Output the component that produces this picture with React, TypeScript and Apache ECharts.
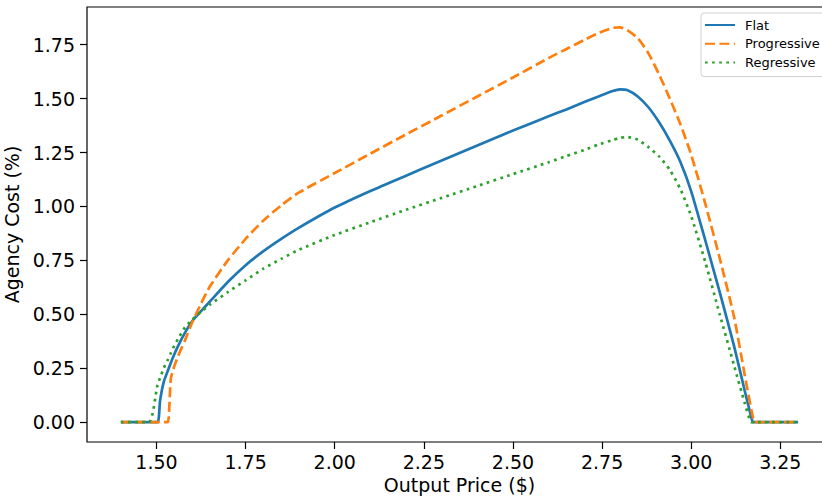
import React, { useEffect, useRef } from "react";
import * as echarts from "echarts";

const priceGrid = [1.40, 1.478, 1.503, 1.51, 1.52, 1.532, 1.54, 1.55, 1.56, 1.58, 1.60, 1.625, 1.65, 1.70, 1.75, 1.80, 1.85, 1.90, 2.00, 2.10, 2.20, 2.30, 2.40, 2.50, 2.60, 2.65, 2.70, 2.74, 2.78, 2.80, 2.82, 2.85, 2.88, 2.91, 2.94, 2.97, 3.00, 3.04, 3.08, 3.12, 3.15, 3.169, 3.173, 3.177, 3.20, 3.30];

const flatCost = [0, 0, 0, 0.1, 0.185, 0.24, 0.275, 0.315, 0.352, 0.415,
  0.468, 0.515, 0.56, 0.65, 0.728, 0.793, 0.85, 0.902, 0.995, 1.072,
  1.143, 1.213, 1.283, 1.352, 1.418, 1.45, 1.484, 1.51, 1.535, 1.543,
  1.54, 1.51, 1.46, 1.39, 1.305, 1.205, 1.07, 0.84, 0.603, 0.355,
  0.147, 0.02, 0, 0, 0, 0];

const progressiveCost = [0, 0, 0, 0, 0, 0, 0.2, 0.26, 0.305, 0.38,
  0.462, 0.55, 0.63, 0.75, 0.85, 0.935, 1.005, 1.065, 1.155, 1.245,
  1.334, 1.422, 1.51, 1.598, 1.688, 1.73, 1.772, 1.804, 1.828, 1.83,
  1.818, 1.78, 1.71, 1.612, 1.50, 1.38, 1.24, 1.01, 0.76, 0.49,
  0.22, 0.055, 0.025, 0, 0, 0];

const regressiveCost = [0, 0, 0.175, 0.205, 0.25, 0.29, 0.32, 0.355, 0.385, 0.44,
  0.475, 0.512, 0.545, 0.603, 0.658, 0.712, 0.757, 0.80, 0.868, 0.927,
  0.985, 1.04, 1.095, 1.15, 1.205, 1.234, 1.262, 1.287, 1.308, 1.318,
  1.322, 1.31, 1.275, 1.232, 1.17, 1.08, 0.955, 0.74, 0.50, 0.265,
  0.09, 0, 0, 0, 0, 0];

const xTicks = [1.5, 1.75, 2.0, 2.25, 2.5, 2.75, 3.0, 3.25];
const yTicks = [0, 0.25, 0.5, 0.75, 1.0, 1.25, 1.5, 1.75];

const FONT = "DejaVu Sans";
const LW = 2.7;

export default function App() {
  const ref = useRef<HTMLDivElement>(null);
  useEffect(() => {
    if (!ref.current) return;
    const chart = echarts.init(ref.current, undefined, { renderer: "svg" });
    const pair = (ys: number[]) => priceGrid.map((x, i) => [x, ys[i]]);
    const lineSeries = (name: string, ys: number[], color: string, type: any) => ({
      name,
      type: "line",
      data: pair(ys),
      showSymbol: false,
      symbol: "none",
      smooth: 0.2,
      color,
      lineStyle: { color, width: LW, type },
    });
    chart.setOption({
      animation: false,
      backgroundColor: "#ffffff",
      textStyle: { fontFamily: FONT },
      grid: {
        left: 87,
        top: 7,
        width: 745,
        height: 435,
        show: true,
        borderColor: "#000000",
        borderWidth: 1.2,
        containLabel: false,
        outerBoundsMode: "none",
      },
      legend: {
        orient: "vertical",
        left: 701,
        top: 13,
        padding: [5.5, 8, 7.5, 3],
        itemWidth: 30,
        itemHeight: 12,
        itemGap: 5.8,
        itemStyle: { opacity: 0 },
        backgroundColor: "rgba(255,255,255,0.8)",
        borderColor: "#d0d0d0",
        borderWidth: 1,
        borderRadius: 3,
        textStyle: {
          fontFamily: FONT,
          fontSize: 13,
          lineHeight: 13,
          color: "#000000",
          padding: [0, 0, 0, 5],
        },
        data: ["Flat", "Progressive", "Regressive"],
      },
      xAxis: {
        type: "value",
        min: 1.305,
        max: 3.395,
        name: "Output Price ($)",
        nameLocation: "middle",
        nameGap: 33,
        nameTextStyle: { fontFamily: FONT, fontSize: 19, color: "#000000" },
        axisLine: { show: false, onZero: false },
        axisTick: {
          show: true,
          length: 7,
          lineStyle: { color: "#000000", width: 1.2 },
          customValues: xTicks,
        },
        axisLabel: {
          fontFamily: FONT,
          fontSize: 19,
          color: "#000000",
          margin: 10,
          customValues: xTicks,
          formatter: (v: number) => v.toFixed(2),
        },
        splitLine: { show: false },
      },
      yAxis: {
        type: "value",
        min: -0.0917,
        max: 1.9247,
        name: "Agency Cost (%)",
        nameLocation: "middle",
        nameGap: 52,
        nameTextStyle: { fontFamily: FONT, fontSize: 19, color: "#000000" },
        axisLine: { show: false, onZero: false },
        axisTick: {
          show: true,
          length: 7,
          lineStyle: { color: "#000000", width: 1.2 },
          customValues: yTicks,
        },
        axisLabel: {
          fontFamily: FONT,
          fontSize: 19,
          color: "#000000",
          margin: 12,
          customValues: yTicks,
          formatter: (v: number) => v.toFixed(2),
        },
        splitLine: { show: false },
      },
      series: [
        lineSeries("Flat", flatCost, "#1f77b4", "solid"),
        lineSeries("Progressive", progressiveCost, "#ff7f0e", [10, 4.4]),
        lineSeries("Regressive", regressiveCost, "#2ca02c", [2.7, 4.4]),
      ],
    });
    return () => chart.dispose();
  }, []);
  return (
    <div
      ref={ref}
      style={{ position: "absolute", left: 0, top: 0, width: 822, height: 497 }}
    />
  );
}
